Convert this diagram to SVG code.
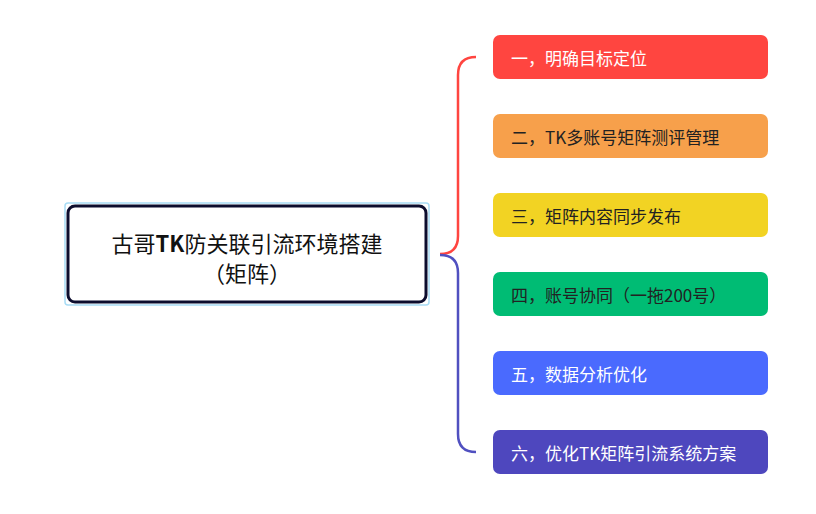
<svg xmlns="http://www.w3.org/2000/svg" width="816" height="514" viewBox="0 0 816 514">
<style>
text{font-family:"Noto Sans CJK SC","Noto Sans",sans-serif}
.n{font-size:17px;dominant-baseline:central}
.w{fill:#fff}.d{fill:#222}
.c{fill:none;stroke-width:2.5}
</style>
<rect width="816" height="514" fill="#fff"/>
<g id="connectors">
<path class="c" stroke="#FF4540" d="M440,254 Q458,254 458,236 L458,75 Q458,57 476,57"/>
<path class="c" stroke="#5050C0" d="M440,255 Q458,255 458,273 L458,434 Q458,452 476,452"/>
</g>
<g id="root">
<rect x="65" y="203" width="364" height="102" rx="3" fill="none" stroke="#A8DCF5" stroke-width="1.5"/>
<rect x="68" y="206" width="358" height="96" rx="7" fill="#fff" stroke="#0D0D2E" stroke-width="3"/>
<text x="247" y="242" font-size="22" text-anchor="middle" dominant-baseline="central" fill="#111">古哥<tspan font-weight="bold">TK</tspan>防关联引流环境搭建</text>
<text x="247" y="272" font-size="22" text-anchor="middle" dominant-baseline="central" fill="#111">（矩阵）</text>
</g>
<g id="n1"><rect x="493" y="35" width="275" height="44" rx="7" fill="#FF4540"/><text class="n w" x="511" y="57">一，明确目标定位</text></g>
<g id="n2"><rect x="493" y="114" width="275" height="44" rx="7" fill="#F7A04B"/><text class="n d" x="511" y="136">二，TK多账号矩阵测评管理</text></g>
<g id="n3"><rect x="493" y="193" width="275" height="44" rx="7" fill="#F2D323"/><text class="n d" x="511" y="215">三，矩阵内容同步发布</text></g>
<g id="n4"><rect x="493" y="272" width="275" height="44" rx="7" fill="#00BC74"/><text class="n d" x="511" y="294">四，账号协同（一拖200号）</text></g>
<g id="n5"><rect x="493" y="351" width="275" height="44" rx="7" fill="#4A6AFE"/><text class="n w" x="511" y="373">五，数据分析优化</text></g>
<g id="n6"><rect x="493" y="430" width="275" height="44" rx="7" fill="#4E47BE"/><text class="n w" x="511" y="452">六，优化TK矩阵引流系统方案</text></g>
</svg>
